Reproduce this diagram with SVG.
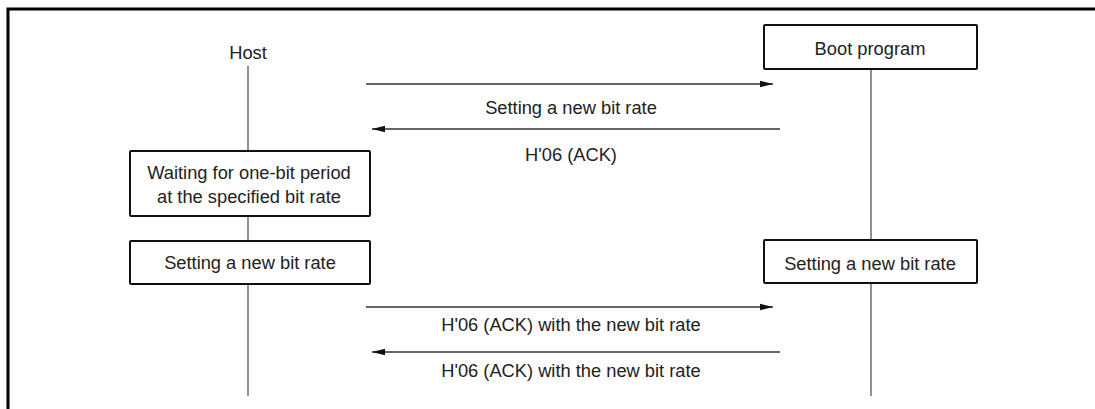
<svg xmlns="http://www.w3.org/2000/svg" width="1095" height="409" viewBox="0 0 1095 409">
<defs>
<style>
text{font-family:"Liberation Sans",Arial,sans-serif;font-size:18.3px;fill:#222;text-anchor:middle}
.box{fill:#fff;stroke:#111;stroke-width:2}
.life{stroke:#555;stroke-width:1.3;fill:none}
.msg{stroke:#333;stroke-width:1.3;fill:none;marker-end:url(#ah)}
</style>
<marker id="ah" markerWidth="14" markerHeight="8" refX="13" refY="4" orient="auto" markerUnits="userSpaceOnUse">
<path d="M0,0.8 L13,4 L0,7.2 Z" fill="#111"/>
</marker>
</defs>
<rect width="1095" height="409" fill="#fff"/>
<path d="M8,409 V9 H1095" fill="none" stroke="#000" stroke-width="3"/>
<g id="lifelines">
<line class="life" x1="248" y1="66" x2="248" y2="396"/>
<line class="life" x1="871" y1="69" x2="871" y2="396"/>
</g>
<g id="host"><text x="248" y="59">Host</text></g>
<g id="boot"><rect class="box" x="764" y="25" width="213" height="44" rx="1"/><text x="870" y="55">Boot program</text></g>
<g id="wait"><rect class="box" x="130" y="151" width="240" height="65" rx="1"/><text x="249" y="179">Waiting for one-bit period</text><text x="249" y="203">at the specified bit rate</text></g>
<g id="setHost"><rect class="box" x="130" y="241" width="240" height="43" rx="1"/><text x="250" y="269">Setting a new bit rate</text></g>
<g id="setBoot"><rect class="box" x="764" y="240" width="213" height="43" rx="1"/><text x="870" y="270">Setting a new bit rate</text></g>
<g id="connectors">
<line class="msg" x1="366" y1="84" x2="773" y2="84"/>
<line class="msg" x1="780" y1="129" x2="372" y2="129"/>
<line class="msg" x1="366" y1="307" x2="773" y2="307"/>
<line class="msg" x1="780" y1="352" x2="372" y2="352"/>
</g>
<g id="labels">
<text x="571" y="114">Setting a new bit rate</text>
<text x="571" y="161">H'06 (ACK)</text>
<text x="571" y="331">H'06 (ACK) with the new bit rate</text>
<text x="571" y="377">H'06 (ACK) with the new bit rate</text>
</g>
</svg>
